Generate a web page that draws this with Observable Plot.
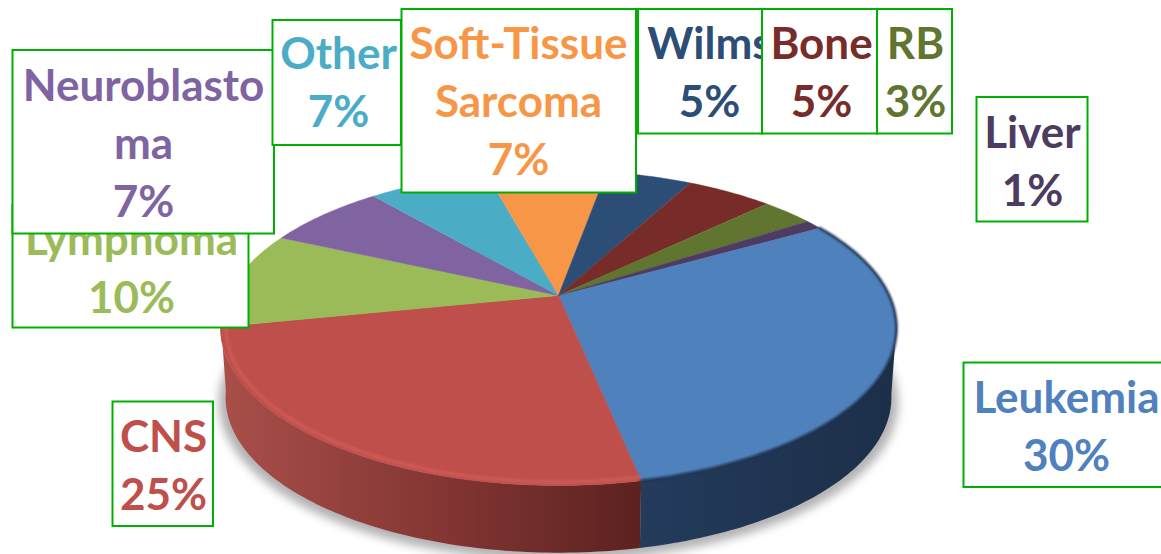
<!DOCTYPE html>
<html>
<head>
<meta charset="utf-8">
<style>html,body{margin:0;padding:0;background:#fff;overflow:hidden}svg{display:block}</style>
<script src="https://cdn.jsdelivr.net/npm/d3@7"></script>
<script src="https://cdn.jsdelivr.net/npm/@observablehq/plot@0.6"></script>
</head>
<body>
<div id="chart"></div>
<script>
// Data, clockwise from the Leukemia slice
const names = ["Leukemia","CNS","Lymphoma","Neuroblastoma","Other","Soft-Tissue Sarcoma","Wilms","Bone","RB","Liver"];
const shares = [30,25,10,7,7,7,5,5,3,1];
const labelTexts = ["Leukemia","CNS","Lymphoma","Neuroblasto\nma","Other","Soft-Tissue\nSarcoma","Wilms","Bone","RB","Liver"];
const colors = ["#4F81BD","#BE4F4B","#9BBB59","#8064A2","#4BACC6","#F79646","#2C4D75","#772C2A","#5F7530","#4D3B62"];

// Layout of the label boxes: [left, right, top, bottom, text centre x, text centre y]
const boxes = {
  "Leukemia":[963.5,1175,362.5,487,1066,423],
  "CNS":[112.5,213,401.5,526,163,462],
  "Lymphoma":[12.5,248.5,205,327.5,131,265],
  "Neuroblastoma":[12.5,274,50,233.5,143,140],
  "Other":[272.5,401,20,145,338,79],
  "Soft-Tissue Sarcoma":[401.5,636,9,192.5,518,98],
  "Wilms":[638,762,9,133.5,709,69],
  "Bone":[762,877,9,133.5,821,69],
  "RB":[877,952,9,133.5,915,69],
  "Liver":[976.5,1087.5,97,221.5,1032,158]
};

// Perspective model of the pie's top face
const cx = 558, cy = 295, ax = 330.7, by = 150.8, k = 0.2063, startDeg = -29.5;
const depth = 70, shrink = 0.985;
const pt = (deg, dy = 0, s = 1, r = 1) => {
  const t = deg * Math.PI / 180, u = r * Math.cos(t), v = r * Math.sin(t), w = 1 - k * v;
  return {x: cx + s * ax * u / w, y: cy + dy + s * by * v / w};
};
const arc = (a, b, dy, s, r) => {
  const n = Math.max(2, Math.ceil(Math.abs(b - a))), out = [];
  for (let i = 0; i <= n; ++i) out.push(pt(a + (b - a) * i / n, dy, s, r));
  return out;
};

const total = d3.sum(shares);
let acc = startDeg;
const spans = names.map((name, i) => {
  const a = acc, b = acc + shares[i] / total * 360; acc = b;
  return {name, a, b};
});
const slicePts = spans.flatMap(({name, a, b}) =>
  [{x: cx, y: cy}, ...arc(a, b, 0, 1, 1)].map(p => ({...p, name})));

const sideBand = (a, b) => [...arc(a, b, 0, 1, 1), ...arc(b, a, depth, shrink, 1)];
const seam = spans[0].b, leftEnd = spans[1].b + 2;
const shadowPts = arc(0, 360, depth + 4, 1.005, 1);
const xy = {x: "x", y: "y"};

const labelMarks = names.flatMap((name, i) => {
  const [l, r, t, b, tx, ty] = boxes[name];
  return [
    Plot.rect([0], {x1: () => l, x2: () => r, y1: () => t, y2: () => b, fill: "#fff", stroke: "#00B000", strokeWidth: 2}),
    Plot.text([`${labelTexts[i]}\n${shares[i]}%`], {
      x: () => tx, y: () => ty, text: d => d, fill: colors[i],
      fontFamily: "Lato", fontWeight: 700, fontSize: 44, lineHeight: 1.32,
      textAnchor: "middle", lineAnchor: "middle"
    })
  ];
});

const plot = Plot.plot({
  width: 1161, height: 554, margin: 0,
  x: {domain: [0, 1161], range: [0, 1161], axis: null},
  y: {domain: [0, 554], range: [0, 554], axis: null},
  color: {domain: names, range: colors},
  style: {background: "#fff"},
  marks: [
    Plot.line(shadowPts, {...xy, fill: "#000", fillOpacity: 0.3, stroke: "none", imageFilter: "blur(5px)"}),
    Plot.line(sideBand(seam, leftEnd), {...xy, fill: "url(#redSide)", stroke: "none"}),
    Plot.line(sideBand(10.8, seam), {...xy, fill: "url(#blueSide)", stroke: "none"}),
    Plot.line(slicePts, {...xy, z: "name", fill: "name", stroke: "name", strokeWidth: 0.5}),
    Plot.line(arc(seam, spans[1].b + 1, 0, 1, 0.985), {...xy, stroke: "#D9625D", strokeWidth: 3, strokeOpacity: 0.75, imageFilter: "blur(1.8px)"}),
    Plot.line(arc(startDeg, seam, 0, 1, 1), {...xy, stroke: "#1E3350", strokeWidth: 2.5, imageFilter: "blur(1.2px)"}),
    ...labelMarks
  ]
});

const defs = d3.select(plot).insert("defs", ":first-child");
const grad = (id, x1, x2, stops) => {
  const g = defs.append("linearGradient").attr("id", id).attr("gradientUnits", "userSpaceOnUse")
    .attr("x1", x1).attr("x2", x2).attr("y1", 0).attr("y2", 0);
  stops.forEach(([o, c]) => g.append("stop").attr("offset", o).attr("stop-color", c));
};
grad("redSide", 222, 640, [[0, "#A94F4A"], [0.5, "#853734"], [1, "#5C2220"]]);
grad("blueSide", 640, 896, [[0, "#243B5C"], [1, "#1C2F49"]]);

document.getElementById("chart").append(plot);
</script>
</body>
</html>
